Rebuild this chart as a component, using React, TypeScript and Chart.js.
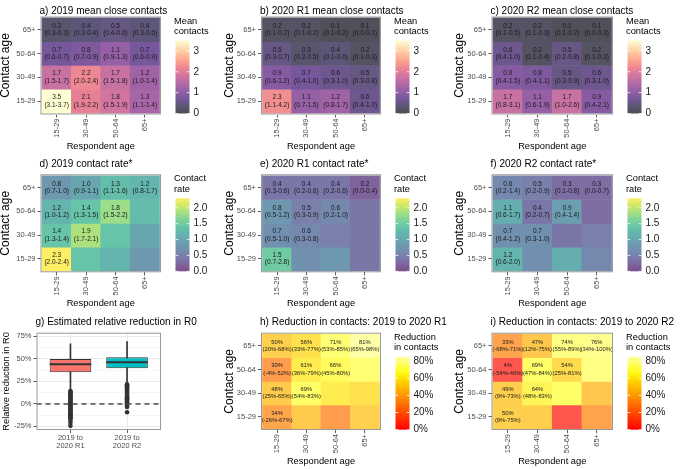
import React, { useEffect, useRef } from 'react';
import { Chart, registerables } from 'chart.js';

Chart.register(...registerables);

const FONT = "'Liberation Sans', Arial, Helvetica, sans-serif";
Chart.defaults.font.family = FONT;

// ---------------- data ----------------
const respondentAges = ['15-29', '30-49', '50-64', '65+'];
const contactAges = ['15-29', '30-49', '50-64', '65+'];

// rows = contact age (15-29 first), columns = respondent age
const mean2019 = [
  [3.5, 2.1, 1.8, 1.3],
  [1.7, 2.2, 1.7, 1.2],
  [0.7, 0.8, 1.1, 0.7],
  [0.3, 0.4, 0.5, 0.4],
];
const mean2019CI = [
  ['3.1-3.7', '1.9-2.2', '1.5-1.9', '1.1-1.4'],
  ['1.5-1.7', '2.0-2.4', '1.5-1.8', '1.0-1.4'],
  ['0.6-0.7', '0.7-0.9', '0.9-1.3', '0.6-0.9'],
  ['0.3-0.3', '0.3-0.4', '0.4-0.6', '0.3-0.6'],
];
const meanR1 = [
  [2.3, 1.1, 1.2, 0.6],
  [0.9, 0.7, 0.6, 0.5],
  [0.5, 0.3, 0.4, 0.2],
  [0.2, 0.2, 0.1, 0.1],
];
const meanR1CI = [
  ['1.1-4.2', '0.7-1.5', '0.8-1.7', '0.4-1.0'],
  ['0.6-1.2', '0.4-1.0', '0.3-1.0', '0.3-0.8'],
  ['0.3-0.7', '0.2-0.5', '0.1-0.6', '0.1-0.3'],
  ['0.1-0.2', '0.1-0.2', '0.1-0.2', '0.0-0.1'],
];
const meanR2 = [
  [1.7, 1.1, 1.7, 0.9],
  [0.9, 0.8, 0.5, 0.6],
  [0.6, 0.2, 0.5, 0.2],
  [0.2, 0.2, 0.1, 0.1],
];
const meanR2CI = [
  ['0.8-3.1', '0.6-1.9', '1.0-2.6', '0.4-2.1'],
  ['0.4-1.5', '0.4-1.1', '0.3-0.9', '0.3-1.0'],
  ['0.4-1.0', '0.1-0.4', '0.2-0.8', '0.1-0.3'],
  ['0.1-0.5', '0.1-0.3', '0.1-0.2', '0.0-0.3'],
];

const rate2019 = [
  [2.3, 1.4, 1.2, 0.8],
  [1.4, 1.9, 1.4, 1.0],
  [1.2, 1.4, 1.8, 1.3],
  [0.8, 1.0, 1.3, 1.2],
];
const rate2019CI = [
  ['2.0-2.4', null, null, null],
  ['1.3-1.4', '1.7-2.1', null, null],
  ['1.0-1.2', '1.3-1.5', '1.5-2.2', null],
  ['0.7-1.0', '0.9-1.1', '1.1-1.6', '0.8-1.7'],
];
const rateR1 = [
  [1.5, 0.7, 0.8, 0.4],
  [0.7, 0.6, 0.5, 0.4],
  [0.8, 0.5, 0.6, 0.4],
  [0.4, 0.4, 0.4, 0.2],
];
const rateR1CI = [
  ['0.7-2.8', null, null, null],
  ['0.5-1.0', '0.3-0.8', null, null],
  ['0.5-1.2', '0.3-0.9', '0.2-1.0', null],
  ['0.3-0.6', '0.2-0.6', '0.2-0.6', '0.0-0.4'],
];
const rateR2 = [
  [1.2, 0.7, 1.1, 0.6],
  [0.7, 0.7, 0.4, 0.5],
  [1.1, 0.4, 0.9, 0.3],
  [0.6, 0.5, 0.3, 0.3],
];
const rateR2CI = [
  ['0.6-2.0', null, null, null],
  ['0.4-1.2', '0.3-1.0', null, null],
  ['0.6-1.7', '0.2-0.7', '0.4-1.4', null],
  ['0.2-1.4', '0.2-0.9', '0.1-0.8', '0.0-0.7'],
];

const reductionR1 = [
  [34, 48, 30, 50],
  [48, 69, 61, 56],
  [30, 61, 66, 71],
  [50, 56, 71, 81],
];
const reductionR1CI = [
  ['-26%-67%', null, null, null],
  ['25%-65%', '54%-83%', null, null],
  ['-4%-52%', '36%-79%', '45%-80%', null],
  ['20%-68%', '33%-77%', '53%-85%', '65%-98%'],
];
const reductionR2 = [
  [50, 49, 4, 33],
  [49, 64, 69, 47],
  [4, 69, 54, 74],
  [33, 47, 74, 76],
];
const reductionR2CI = [
  ['9%-75%', null, null, null],
  ['9%-73%', '48%-83%', null, null],
  ['-54%-40%', '47%-84%', '25%-81%', null],
  ['-68%-71%', '12%-75%', '55%-89%', '34%-100%'],
];

const meanLegendTicks = [0, 1, 2, 3];
const rateLegendTicks = [0, 0.5, 1, 1.5, 2];
const reductionLegendTicks = [0, 20, 40, 60, 80];
const meanLegendMax = 3.5;
const rateLegendMax = 2.3;
const reductionLegendMax = 85;

// boxplot (relative reduction in R0, %)
const r0Groups = [['2019 to', '2020 R1'], ['2019 to', '2020 R2']];
const r0Q1 = [35.2, 39.6];
const r0Median = [44.0, 46.3];
const r0Q3 = [50.0, 51.9];
const r0WhiskerLow = [15.0, 22.5];
const r0WhiskerHigh = [66.7, 69.3];
const r0OutliersR1 = [14.2, 13.1, 12.0, 10.6, 9.4, 8.1, 7.0, 5.8, 4.5, 3.3, 2.0, 0.9, -0.4, -1.6, -2.9, -4.1, -5.2, -6.6, -7.8, -9.0, -10.3, -11.5, -12.7, -13.9, -15.2, -16.0, -17.8, -20.7, -24.4];
const r0OutliersR2 = [21.8, 20.6, 19.5, 18.2, 17.0, 15.9, 14.6, 13.4, 12.3, 11.1, 9.8, 8.7, 7.5, 6.2, 5.1, 3.9, 2.6, 1.5, 0.3, -0.9, -2.2, -3.5, -9.3];
const r0MajorTicks = [-25, 0, 25, 50, 75];
const r0MinorTicks = [-12.5, 12.5, 37.5, 62.5];
const r0BoxColors = ['#F8766D', '#00BFC4'];

// ---------------- colours ----------------
type RGB = number[];
const hex = (h: string): RGB => [parseInt(h.slice(1, 3), 16), parseInt(h.slice(3, 5), 16), parseInt(h.slice(5, 7), 16)];
const even = (arr: string[]) => arr.map((c, i) => [i / (arr.length - 1), c] as [number, string]);
const MAGMA = even(['#000004', '#140E36', '#3B0F70', '#641A80', '#8C2981', '#B73779', '#DE4968', '#F7705C', '#FE9F6D', '#FECF92', '#FCFDBF']);
const VIRIDIS = even(['#440154', '#482576', '#414487', '#35608D', '#2A788E', '#21908C', '#22A884', '#43BF71', '#7AD151', '#BBDF27', '#FDE725']);
const HEAT: [number, string][] = [[0, '#FF0000'], [0.2, '#FF4000'], [0.4, '#FF8000'], [0.55, '#FFB000'], [0.7, '#FFE000'], [0.8, '#FFFF20'], [0.9, '#FFFF60'], [1, '#FFFFA0']];

function ramp(stops: [number, string][], t: number): RGB {
  t = Math.max(0, Math.min(1, t));
  for (let i = 1; i < stops.length; i++) {
    if (t <= stops[i][0]) {
      const [p0, c0] = stops[i - 1];
      const [p1, c1] = stops[i];
      const f = (t - p0) / (p1 - p0 || 1);
      const a = hex(c0), b = hex(c1);
      return [0, 1, 2].map((k) => a[k] + (b[k] - a[k]) * f);
    }
  }
  return hex(stops[stops.length - 1][1]);
}
function toCss(c: RGB, alpha: number) {
  const m = c.map((v) => Math.round(v * alpha + 255 * (1 - alpha)));
  return `rgb(${m[0]},${m[1]},${m[2]})`;
}

type ScaleSpec = {
  stops: [number, string][];
  max: number;
  cellAlpha: number;
  legendAlpha: number;
  ticks: number[];
  fmt: (v: number) => string;
  title: string[];
};
const meanScale: ScaleSpec = { stops: MAGMA, max: meanLegendMax, cellAlpha: 0.7, legendAlpha: 0.7, ticks: meanLegendTicks, fmt: (v) => String(v), title: ['Mean', 'contacts'] };
const rateScale: ScaleSpec = { stops: VIRIDIS, max: rateLegendMax, cellAlpha: 0.7, legendAlpha: 0.7, ticks: rateLegendTicks, fmt: (v) => v.toFixed(1), title: ['Contact', 'rate'] };
const reductionScale: ScaleSpec = { stops: HEAT, max: reductionLegendMax, cellAlpha: 0.7, legendAlpha: 1, ticks: reductionLegendTicks, fmt: (v) => `${v}%`, title: ['Reduction', 'in contacts'] };

// ---------------- layout ----------------
const W = 680, H = 469;
const Y_AXIS_W = 36, X_AXIS_H = 30;
const COLS = [
  { left: 40.5, right: 161, yTitleX: 5.5 },
  { left: 261, right: 381, yTitleX: 230 },
  { left: 491.5, right: 613, yTitleX: 460 },
];
const ROWS = [
  { top: 16.5, bottom: 114.5, titleY: 11.5 },
  { top: 174.3, bottom: 272.3, titleY: 164.3 },
  { top: 332.7, bottom: 430, titleY: 322.7 },
];
const TICK_TEXT = '#4D4D4D';

function padFor(a: { left: number; right: number; top: number; bottom: number }) {
  return { left: a.left - Y_AXIS_W, top: a.top, right: W - a.right, bottom: H - a.bottom - X_AXIS_H };
}

function drawRotated(ctx: CanvasRenderingContext2D, text: string, x: number, y: number, size: number) {
  ctx.save();
  ctx.translate(x, y);
  ctx.rotate(-Math.PI / 2);
  ctx.font = `${size}px ${FONT}`;
  ctx.fillStyle = '#000';
  ctx.textAlign = 'center';
  ctx.textBaseline = 'middle';
  ctx.fillText(text, 0, 0);
  ctx.restore();
}

function drawFrame(ctx: CanvasRenderingContext2D, ca: any, title: string, titleY: number) {
  ctx.save();
  ctx.strokeStyle = '#9A9A9A';
  ctx.lineWidth = 1;
  ctx.strokeRect(ca.left + 0.5, ca.top + 0.5, ca.right - ca.left - 1, ca.bottom - ca.top - 1);
  ctx.fillStyle = '#000';
  ctx.font = `10px ${FONT}`;
  ctx.textAlign = 'left';
  ctx.textBaseline = 'middle';
  ctx.fillText(title, ca.left - 1, titleY);
  ctx.restore();
}

function drawColorbar(ctx: CanvasRenderingContext2D, ca: any, s: ScaleSpec) {
  const x = ca.right + 14.5, top = ca.top + 24, w = 14, h = 73;
  ctx.save();
  const grad = ctx.createLinearGradient(0, top + h, 0, top);
  for (let i = 0; i <= 40; i++) grad.addColorStop(i / 40, toCss(ramp(s.stops, i / 40), s.legendAlpha));
  ctx.fillStyle = grad;
  ctx.fillRect(x, top, w, h);
  ctx.font = `9.3px ${FONT}`;
  ctx.fillStyle = '#000';
  ctx.textAlign = 'left';
  ctx.textBaseline = 'middle';
  ctx.fillText(s.title[0], x - 1.5, top - 19.5);
  ctx.fillText(s.title[1], x - 1.5, top - 9);
  ctx.font = `10px ${FONT}`;
  ctx.fillStyle = '#1A1A1A';
  ctx.strokeStyle = '#FFFFFF';
  ctx.lineWidth = 0.8;
  s.ticks.forEach((v) => {
    const yy = top + h - (v / s.max) * h;
    ctx.beginPath();
    ctx.moveTo(x, yy); ctx.lineTo(x + 2.8, yy);
    ctx.moveTo(x + w - 2.8, yy); ctx.lineTo(x + w, yy);
    ctx.stroke();
    ctx.fillText(s.fmt(v), x + w + 4, yy);
  });
  ctx.restore();
}

type HeatSpec = {
  title: string;
  col: number;
  row: number;
  values: number[][];
  ci: (string | null)[][];
  fmtValue: (v: number) => string;
  scale: ScaleSpec;
  textSize: number;
};

const tickFont = { size: 7.5, family: FONT };

function heatConfig(spec: HeatSpec): any {
  const col = COLS[spec.col], row = ROWS[spec.row];
  const area = { left: col.left, right: col.right, top: row.top, bottom: row.bottom };
  const points: any[] = [];
  const colors: string[] = [];
  spec.values.forEach((rowVals, ci) =>
    rowVals.forEach((v, ri) => {
      points.push({ x: ri + 0.5, y: [ci, ci + 1] });
      colors.push(toCss(ramp(spec.scale.stops, v / spec.scale.max), spec.scale.cellAlpha));
    })
  );
  const textPlugin = {
    id: 'cellText',
    afterDatasetsDraw(chart: any) {
      const ctx = chart.ctx;
      const xs = chart.scales.x, ys = chart.scales.y;
      ctx.save();
      ctx.fillStyle = '#1A1A1A';
      ctx.textAlign = 'center';
      ctx.textBaseline = 'middle';
      ctx.font = `${spec.textSize}px ${FONT}`;
      spec.ci.forEach((rowCi, ci) =>
        rowCi.forEach((txt, ri) => {
          if (txt == null) return;
          const px = xs.getPixelForValue(ri + 0.5);
          const py = ys.getPixelForValue(ci + 0.5);
          ctx.fillText(spec.fmtValue(spec.values[ci][ri]), px, py - 3.7);
          ctx.fillText(`(${txt})`, px, py + 3.7);
        })
      );
      ctx.restore();
    },
  };
  const decor = {
    id: 'decor',
    afterDraw(chart: any) {
      const ctx = chart.ctx, ca = chart.chartArea;
      drawFrame(ctx, ca, spec.title, row.titleY);
      ctx.save();
      ctx.font = `9.3px ${FONT}`;
      ctx.fillStyle = '#000';
      ctx.textAlign = 'center';
      ctx.textBaseline = 'middle';
      ctx.fillText('Respondent age', (ca.left + ca.right) / 2, ca.bottom + 31.5);
      ctx.restore();
      drawRotated(ctx, 'Contact age', col.yTitleX, (ca.top + ca.bottom) / 2, 12);
      drawColorbar(ctx, ca, spec.scale);
    },
  };
  return {
    type: 'bar',
    data: {
      datasets: [
        { data: points, backgroundColor: colors, borderWidth: 0, barPercentage: 1, categoryPercentage: 1, grouped: false },
      ],
    },
    options: {
      responsive: false,
      maintainAspectRatio: false,
      devicePixelRatio: 1,
      animation: false,
      events: [],
      layout: { padding: padFor(area) },
      plugins: { legend: { display: false }, tooltip: { enabled: false }, title: { display: false } },
      scales: {
        x: {
          type: 'linear',
          min: -0.05,
          max: 4.05,
          offset: false,
          afterBuildTicks: (s: any) => { s.ticks = respondentAges.map((_, i) => ({ value: i + 0.5 })); },
          afterFit: (s: any) => { s.height = X_AXIS_H; },
          ticks: { callback: (_v: any, i: number) => respondentAges[i], autoSkip: false, minRotation: 90, maxRotation: 90, padding: 1, color: TICK_TEXT, font: tickFont },
          grid: { display: true, drawOnChartArea: false, drawTicks: true, tickLength: 3, tickColor: '#333', tickWidth: 0.8, offset: false },
          border: { display: false },
        },
        y: {
          type: 'linear',
          min: -0.06,
          max: 4.06,
          afterBuildTicks: (s: any) => { s.ticks = contactAges.map((_, i) => ({ value: i + 0.5 })); },
          afterFit: (s: any) => { s.width = Y_AXIS_W; },
          ticks: { callback: (_v: any, i: number) => contactAges[i], autoSkip: false, padding: 2, color: TICK_TEXT, font: tickFont },
          grid: { display: true, drawOnChartArea: false, drawTicks: true, tickLength: 3, tickColor: '#333', tickWidth: 0.8 },
          border: { display: false },
        },
      },
    },
    plugins: [textPlugin, decor],
  };
}

function boxConfig(): any {
  const area = { left: 38.5, right: 161, top: ROWS[2].top, bottom: ROWS[2].bottom };
  const decor = {
    id: 'decorBox',
    afterDatasetsDraw(chart: any) {
      const ctx = chart.ctx, ca = chart.chartArea;
      const y0 = chart.scales.y.getPixelForValue(0);
      ctx.save();
      ctx.strokeStyle = '#4D4D4D';
      ctx.lineWidth = 1.5;
      ctx.setLineDash([5, 4]);
      ctx.beginPath();
      ctx.moveTo(ca.left, y0);
      ctx.lineTo(ca.right, y0);
      ctx.stroke();
      ctx.restore();
    },
    afterDraw(chart: any) {
      const ctx = chart.ctx, ca = chart.chartArea;
      drawFrame(ctx, ca, 'g) Estimated relative reduction in R0', ROWS[2].titleY);
      drawRotated(ctx, 'Relative reduction in R0', 6, (ca.top + ca.bottom) / 2, 9.3);
    },
  };
  const gridTicks = [...r0MajorTicks, ...r0MinorTicks].sort((a, b) => a - b);
  const isMajor = (v: number) => r0MajorTicks.includes(v);
  const outliers = [
    ...r0OutliersR1.map((v) => ({ x: 1, y: v })),
    ...r0OutliersR2.map((v) => ({ x: 2, y: v })),
  ];
  return {
    type: 'bar',
    data: {
      datasets: [
        {
          type: 'bar',
          data: r0Groups.map((_, i) => ({ x: i + 1, y: [r0WhiskerLow[i], r0WhiskerHigh[i]] })),
          backgroundColor: '#333333',
          barThickness: 1,
          grouped: false,
          order: 4,
        },
        {
          type: 'bar',
          data: r0Groups.map((_, i) => ({ x: i + 1, y: [r0Q1[i], r0Q3[i]] })),
          backgroundColor: r0BoxColors,
          borderColor: '#333333',
          borderWidth: 1,
          borderSkipped: false,
          barPercentage: 0.735,
          categoryPercentage: 1,
          grouped: false,
          order: 3,
        },
        {
          type: 'bar',
          data: r0Groups.map((_, i) => ({ x: i + 1, y: [r0Median[i] - 1.1, r0Median[i] + 1.1] })),
          backgroundColor: '#333333',
          barPercentage: 0.735,
          categoryPercentage: 1,
          grouped: false,
          order: 2,
        },
        {
          type: 'scatter',
          data: outliers,
          pointRadius: 2.3,
          pointBackgroundColor: '#333333',
          pointBorderWidth: 0,
          order: 1,
        },
      ],
    },
    options: {
      responsive: false,
      maintainAspectRatio: false,
      devicePixelRatio: 1,
      animation: false,
      events: [],
      layout: { padding: padFor(area) },
      plugins: { legend: { display: false }, tooltip: { enabled: false }, title: { display: false } },
      scales: {
        x: {
          type: 'linear',
          min: 0.4,
          max: 2.6,
          offset: false,
          afterBuildTicks: (s: any) => { s.ticks = r0Groups.map((_, i) => ({ value: i + 1 })); },
          afterFit: (s: any) => { s.height = X_AXIS_H; },
          ticks: { callback: (_v: any, i: number) => r0Groups[i], autoSkip: false, minRotation: 0, maxRotation: 0, padding: 1, color: TICK_TEXT, font: { size: 7.5, family: FONT, lineHeight: 1.05 } },
          grid: { display: true, color: '#EBEBEB', lineWidth: 1, tickLength: 3, tickColor: '#333', tickWidth: 0.8, offset: false },
          border: { display: false },
        },
        y: {
          type: 'linear',
          min: -29,
          max: 79.1,
          afterBuildTicks: (s: any) => { s.ticks = gridTicks.map((v) => ({ value: v })); },
          afterFit: (s: any) => { s.width = Y_AXIS_W - 2; },
          ticks: { callback: (v: any) => (isMajor(v) ? `${v}%` : ''), autoSkip: false, padding: 2, color: TICK_TEXT, font: tickFont },
          grid: {
            display: true,
            color: '#EBEBEB',
            lineWidth: (c: any) => (c.tick && isMajor(c.tick.value) ? 1 : 0.5),
            tickLength: 3,
            tickColor: (c: any) => (c.tick && isMajor(c.tick.value) ? '#333' : 'rgba(0,0,0,0)'),
            tickWidth: 0.8,
          },
          border: { display: false },
        },
      },
    },
    plugins: [decor],
  };
}

const fmt1 = (v: number) => v.toFixed(1);
const fmtPct = (v: number) => `${v}%`;

const heatSpecs: HeatSpec[] = [
  { title: 'a) 2019 mean close contacts', col: 0, row: 0, values: mean2019, ci: mean2019CI, fmtValue: fmt1, scale: meanScale, textSize: 6.5 },
  { title: 'b) 2020 R1 mean close contacts', col: 1, row: 0, values: meanR1, ci: meanR1CI, fmtValue: fmt1, scale: meanScale, textSize: 6.5 },
  { title: 'c) 2020 R2 mean close contacts', col: 2, row: 0, values: meanR2, ci: meanR2CI, fmtValue: fmt1, scale: meanScale, textSize: 6.5 },
  { title: 'd) 2019 contact rate*', col: 0, row: 1, values: rate2019, ci: rate2019CI, fmtValue: fmt1, scale: rateScale, textSize: 6.5 },
  { title: 'e) 2020 R1 contact rate*', col: 1, row: 1, values: rateR1, ci: rateR1CI, fmtValue: fmt1, scale: rateScale, textSize: 6.5 },
  { title: 'f) 2020 R2 contact rate*', col: 2, row: 1, values: rateR2, ci: rateR2CI, fmtValue: fmt1, scale: rateScale, textSize: 6.5 },
  { title: 'h) Reduction in contacts: 2019 to 2020 R1', col: 1, row: 2, values: reductionR1, ci: reductionR1CI, fmtValue: fmtPct, scale: reductionScale, textSize: 5.8 },
  { title: 'i) Reduction in contacts: 2019 to 2020 R2', col: 2, row: 2, values: reductionR2, ci: reductionR2CI, fmtValue: fmtPct, scale: reductionScale, textSize: 5.8 },
];

function ChartCanvas({ make }: { make: () => any }) {
  const ref = useRef<HTMLCanvasElement>(null);
  useEffect(() => {
    if (!ref.current) return;
    const chart = new Chart(ref.current, make());
    return () => chart.destroy();
  }, [make]);
  return (
    <canvas
      ref={ref}
      width={W}
      height={H}
      style={{ position: 'absolute', left: 0, top: 0, width: W, height: H }}
    />
  );
}

const makers: (() => any)[] = [...heatSpecs.map((s) => () => heatConfig(s)), () => boxConfig()];

export default function App() {
  return (
    <div style={{ position: 'fixed', left: 0, top: 0, width: W, height: H, background: '#FFFFFF', overflow: 'hidden' }}>
      {makers.map((m, i) => (
        <ChartCanvas key={i} make={m} />
      ))}
    </div>
  );
}
